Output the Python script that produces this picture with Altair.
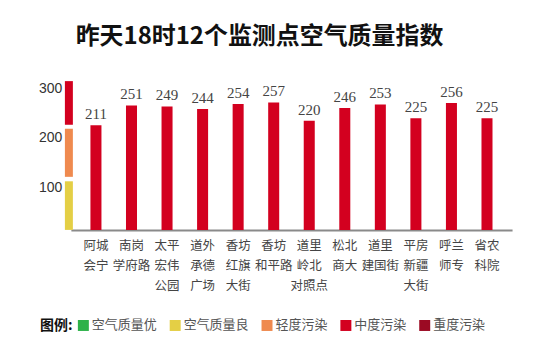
import altair as alt
import pandas as pd

# ---- data ----
stations = ["阿城\n会宁", "南岗\n学府路", "太平\n宏伟\n公园", "道外\n承德\n广场",
            "香坊\n红旗\n大街", "香坊\n和平路", "道里\n岭北\n对照点", "松北\n商大",
            "道里\n建国街", "平房\n新疆\n大街", "呼兰\n师专", "省农\n科院"]
aqi = [211, 251, 249, 244, 254, 257, 220, 246, 253, 225, 256, 225]
station_level = ["中度污染"] * len(stations)

levels = ["空气质量优", "空气质量良", "轻度污染", "中度污染", "重度污染"]
level_colors = ["#2eb24a", "#e4cf45", "#ef8a4f", "#d3001f", "#9b0a23"]

band_levels = ["空气质量良", "轻度污染", "中度污染"]
band_lo = [0, 107, 212]
band_hi = [98, 204, 300]

y_ticks = [100, 200, 300]

bars_df = pd.DataFrame({"station": stations, "aqi": aqi, "level": station_level})
band_df = pd.DataFrame({"lo": band_lo, "hi": band_hi, "level": band_levels})

CJK = "Noto Sans CJK SC"

yscale = alt.Scale(domain=[0, 320], nice=False, zero=True)
yaxis = alt.Axis(values=y_ticks, title=None, grid=False, domain=False, ticks=False,
                 labelFont="Liberation Sans", labelFontSize=14, labelColor="#333",
                 labelBaseline="top", labelPadding=9, labelOffset=0)
xscale = alt.Scale(paddingInner=0.69, paddingOuter=0.55)
xaxis = alt.Axis(title=None, ticks=False, domainColor="#8a8a8a", domainWidth=2,
                 labelAngle=0, labelFont=CJK, labelFontSize=12.5, labelColor="#444",
                 labelExpr="split(datum.label, '\\n')", labelLineHeight=20,
                 labelBaseline="top", labelPadding=10, labelAlign="center")
color = alt.Color("level:N", scale=alt.Scale(domain=levels, range=level_colors),
                  legend=alt.Legend(title="图例:", orient="none", direction="horizontal",
                                    legendX=-31, legendY=248, titleOrient="left",
                                    titleFont=CJK, titleFontSize=14, titleFontWeight="bold",
                                    titleColor="#111", titlePadding=4,
                                    labelFont=CJK, labelFontSize=13, labelColor="#555",
                                    labelLimit=200,
                                    symbolType="square", symbolSize=121, symbolStrokeWidth=0,
                                    symbolOpacity=1, labelOffset=2, columnPadding=11))

band = alt.Chart(band_df).mark_rect().encode(
    y=alt.Y("lo:Q", scale=yscale, axis=yaxis),
    y2="hi:Q",
    x=alt.value(-6), x2=alt.value(2),
    color=color,
)

bars = alt.Chart(bars_df).mark_bar().encode(
    x=alt.X("station:N", sort=None, scale=xscale, axis=xaxis),
    y=alt.Y("aqi:Q", scale=yscale, axis=yaxis),
    color=color,
)

labels = alt.Chart(bars_df).mark_text(font="Liberation Serif", fontSize=15, color="#444",
                                      baseline="bottom", dy=-3).encode(
    x=alt.X("station:N", sort=None, scale=xscale, axis=xaxis),
    y=alt.Y("aqi:Q", scale=yscale, axis=yaxis),
    text="aqi:Q",
)

chart = alt.layer(band, bars, labels).properties(
    width=442, height=159,
    background="white",
    title=alt.TitleParams("昨天18时12个监测点空气质量指数", font=CJK, fontSize=24,
                          fontWeight="bold", color="#111", anchor="middle", dx=-32, offset=22),
    autosize=alt.AutoSizeParams(type="none"),
    padding={"left": 63, "top": 63, "right": 30, "bottom": 118},
).configure_view(stroke=None)

chart.save("out.html", embed_options={"renderer": "svg", "actions": False})
